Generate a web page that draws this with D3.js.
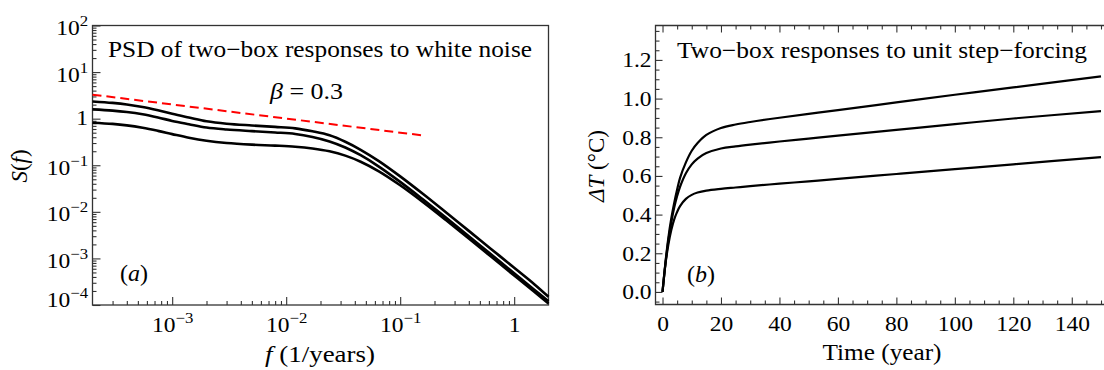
<!DOCTYPE html>
<html>
<head>
<meta charset="utf-8">
<script src="https://cdn.jsdelivr.net/npm/d3@7"></script>
<style>
  body { margin: 0; background: #fff; }
  text { font-family: "Liberation Serif", "Times New Roman", serif; fill: #000; }
</style>
</head>
<body>
<script>
// panel (a): PSD of two-box responses
var freq     = [2e-4, 3e-4, 4e-4, 5.5e-4, 7.5e-4, 1e-3, 1.4e-3, 2e-3, 3e-3, 5e-3, 8e-3, 0.012, 0.017, 0.024, 0.033, 0.045, 0.065, 0.1, 0.16, 0.25, 0.4, 0.63, 1, 1.5, 2];
var psdHigh  = [2.34, 2.18, 2.02, 1.78, 1.51, 1.27, 1.06, 0.88, 0.78, 0.715, 0.667, 0.62, 0.535, 0.44, 0.32, 0.215, 0.123, 0.0578, 0.0238, 0.0099, 0.0039, 0.00158, 0.00063, 0.00028, 0.00015];
var psdMid   = [1.58, 1.49, 1.39, 1.24, 1.06, 0.895, 0.76, 0.645, 0.586, 0.541, 0.506, 0.47, 0.405, 0.325, 0.241, 0.164, 0.0937, 0.044, 0.0181, 0.0076, 0.003, 0.00121, 0.00048, 0.000213, 0.00012];
var psdLow   = [0.82, 0.773, 0.719, 0.638, 0.547, 0.466, 0.389, 0.335, 0.30, 0.277, 0.264, 0.25, 0.229, 0.199, 0.161, 0.119, 0.0742, 0.0372, 0.0159, 0.00675, 0.00267, 0.00108, 0.00043, 0.000192, 0.000108];
var betaLineF = [2e-4, 0.166];
var betaLineS = [3.28, 0.43];

// panel (b): step responses
var years    = [0, 1, 2, 3, 4, 5, 6, 8, 10, 12, 15, 20, 25, 30, 40, 50, 60, 80, 100, 120, 150];
var stepHigh = [0, 0.152, 0.28, 0.38, 0.46, 0.53, 0.59, 0.67, 0.73, 0.77, 0.812, 0.848, 0.866, 0.879, 0.901, 0.921, 0.94, 0.98, 1.02, 1.058, 1.115];
var stepMid  = [0, 0.147, 0.266, 0.36, 0.436, 0.496, 0.544, 0.614, 0.66, 0.69, 0.718, 0.742, 0.753, 0.762, 0.778, 0.793, 0.808, 0.838, 0.868, 0.897, 0.935];
var stepLow  = [0, 0.142, 0.245, 0.32, 0.375, 0.414, 0.444, 0.481, 0.502, 0.514, 0.524, 0.533, 0.54, 0.547, 0.56, 0.572, 0.585, 0.61, 0.635, 0.66, 0.697];

// tick labels
var fTicks = [1e-3, 1e-2, 1e-1, 1];
var sTicks = [1e-4, 1e-3, 1e-2, 1e-1, 1, 10, 100];
var tTicks = [0, 20, 40, 60, 80, 100, 120, 140];
var dTicks = [0, 0.2, 0.4, 0.6, 0.8, 1.0, 1.2];

var svg = d3.select('body').append('svg')
   .attr('width', 1104)
   .attr('height', 370);

var frameColor = '#333';
var stretch = 'scale(1.12,1)';

// ---------- panel (a) ----------
var xL = d3.scaleLog().domain([2e-4, 2]).range([92.5, 548.5]);
var yL = d3.scaleLog().domain([1e-4, 100]).range([305, 25.5]);

var minorF = [], minorS = [];
for (var e = -4; e <= 0; e++) {
  for (var m = 2; m <= 9; m++) {
    var v = m * Math.pow(10, e);
    if (v > 2e-4 && v < 2) minorF.push(v);
  }
}
for (var e2 = -4; e2 < 2; e2++) {
  for (var m2 = 2; m2 <= 9; m2++) minorS.push(m2 * Math.pow(10, e2));
}

function powLabel(sel, d) {
  var k = Math.round(Math.log10(d));
  sel.text(null);
  if (k === 0) { sel.text('1'); return; }
  sel.append('tspan').text('10');
  sel.append('tspan').attr('dy', '-9').attr('font-size', '15px')
     .text(k < 0 ? '\u2212' + (-k) : String(k));
}

var gA = svg.append('g');

// minor ticks
gA.append('g').attr('transform', 'translate(0,305)')
  .call(d3.axisBottom(xL).tickValues(minorF).tickSize(-4).tickFormat(''))
  .call(function(g){ g.select('.domain').remove(); });
gA.append('g').attr('transform', 'translate(92.5,0)')
  .call(d3.axisLeft(yL).tickValues(minorS).tickSize(-4).tickFormat(''))
  .call(function(g){ g.select('.domain').remove(); });

// major ticks + labels
var axXL = gA.append('g').attr('transform', 'translate(0,305)')
  .call(d3.axisBottom(xL).tickValues(fTicks).tickSize(-8).tickPadding(12));
axXL.select('.domain').remove();
axXL.selectAll('.tick text').attr('font-size', '21px').attr('dy', null).attr('y', 27)
  .attr('transform', stretch)
  .each(function(d){ powLabel(d3.select(this), d); });

var axYL = gA.append('g').attr('transform', 'translate(92.5,0)')
  .call(d3.axisLeft(yL).tickValues(sTicks).tickSize(-8).tickPadding(4));
axYL.select('.domain').remove();
axYL.selectAll('.tick text').attr('font-size', '21px').attr('dy', null)
  .attr('y', function(d){ return d === 1e-4 ? 1 : (d === 1 ? 6 : 9); })
  .attr('transform', stretch)
  .each(function(d){ powLabel(d3.select(this), d); });

gA.selectAll('.tick line').attr('stroke', frameColor).attr('stroke-width', 1.1);

gA.append('rect')
  .attr('x', 92.5).attr('y', 25.5)
  .attr('width', 548.5 - 92.5).attr('height', 305 - 25.5)
  .attr('fill', 'none').attr('stroke', frameColor).attr('stroke-width', 1.3);

var lineA = d3.line()
  .x(function(d){ return xL(d[0]); })
  .y(function(d){ return yL(d[1]); })
  .curve(d3.curveCatmullRom.alpha(0.5));

[psdLow, psdMid, psdHigh].forEach(function(s) {
  gA.append('path')
    .attr('d', lineA(freq.map(function(f, i){ return [f, s[i]]; })))
    .attr('fill', 'none').attr('stroke', '#000').attr('stroke-width', 2.6);
});

gA.append('path')
  .attr('d', lineA(betaLineF.map(function(f, i){ return [f, betaLineS[i]]; })))
  .attr('fill', 'none').attr('stroke', '#f00').attr('stroke-width', 2)
  .attr('stroke-dasharray', '9,5');

gA.append('text').attr('x', 320).attr('y', 57)
  .attr('text-anchor', 'middle').attr('font-size', '23px')
  .attr('textLength', 424).attr('lengthAdjust', 'spacingAndGlyphs')
  .text('PSD of two\u2212box responses to white noise');

var beta = gA.append('text').attr('x', 306.5).attr('y', 99)
  .attr('text-anchor', 'middle').attr('font-size', '23px')
  .attr('textLength', 73).attr('lengthAdjust', 'spacingAndGlyphs');
beta.append('tspan').attr('font-style', 'italic').text('\u03b2');
beta.append('tspan').text(' = 0.3');

var la = gA.append('text').attr('x', 120).attr('y', 281).attr('font-size', '23px')
  .attr('textLength', 28).attr('lengthAdjust', 'spacingAndGlyphs');
la.append('tspan').text('(');
la.append('tspan').attr('font-style', 'italic').text('a');
la.append('tspan').text(')');

var xla = gA.append('text').attr('x', 320).attr('y', 362)
  .attr('text-anchor', 'middle').attr('font-size', '23px')
  .attr('textLength', 110).attr('lengthAdjust', 'spacingAndGlyphs');
xla.append('tspan').attr('font-style', 'italic').text('f');
xla.append('tspan').text(' (1/years)');

var yla = gA.append('text').attr('transform', 'translate(27,166) rotate(-90)')
  .attr('text-anchor', 'middle').attr('font-size', '23px');
yla.append('tspan').attr('font-style', 'italic').text('S');
yla.append('tspan').text('(');
yla.append('tspan').attr('font-style', 'italic').text('f');
yla.append('tspan').text(')');

// ---------- panel (b) ----------
var xR = d3.scaleLinear().domain([-2.4, 150]).range([655.5, 1101]);
var yR = d3.scaleLinear().domain([-0.065, 1.378]).range([304.5, 25.5]);

var minorT = [], minorD = [];
for (var t = 5; t <= 150; t += 5) if (t % 20 !== 0) minorT.push(t);
for (var j = -1; j <= 27; j++) if (j % 4 !== 0) minorD.push(j * 0.05);

var gB = svg.append('g');

gB.append('g').attr('transform', 'translate(0,304.5)')
  .call(d3.axisBottom(xR).tickValues(minorT).tickSize(-4).tickFormat(''))
  .call(function(g){ g.select('.domain').remove(); });
gB.append('g').attr('transform', 'translate(0,25.5)')
  .call(d3.axisTop(xR).tickValues(minorT).tickSize(-4).tickFormat(''))
  .call(function(g){ g.select('.domain').remove(); });
gB.append('g').attr('transform', 'translate(0,25.5)')
  .call(d3.axisTop(xR).tickValues(tTicks).tickSize(-7).tickFormat(''))
  .call(function(g){ g.select('.domain').remove(); });
gB.append('g').attr('transform', 'translate(655.5,0)')
  .call(d3.axisLeft(yR).tickValues(minorD).tickSize(-4).tickFormat(''))
  .call(function(g){ g.select('.domain').remove(); });

var axXR = gB.append('g').attr('transform', 'translate(0,304.5)')
  .call(d3.axisBottom(xR).tickValues(tTicks).tickSize(-7).tickPadding(12));
axXR.select('.domain').remove();
axXR.selectAll('.tick text').attr('font-size', '21px').attr('dy', null).attr('y', 27)
  .attr('transform', stretch);

var axYR = gB.append('g').attr('transform', 'translate(655.5,0)')
  .call(d3.axisLeft(yR).tickValues(dTicks).tickSize(-7).tickPadding(3.5)
        .tickFormat(d3.format('.1f')));
axYR.select('.domain').remove();
axYR.selectAll('.tick text').attr('font-size', '21px').attr('dy', null).attr('y', 7)
  .attr('transform', stretch);

gB.selectAll('.tick line').attr('stroke', frameColor).attr('stroke-width', 1.1);

gB.append('path')
  .attr('d', 'M1104,25.5H655.5V304.5H1104')
  .attr('fill', 'none').attr('stroke', frameColor).attr('stroke-width', 1.3);

var lineB = d3.line()
  .x(function(d){ return xR(d[0]); })
  .y(function(d){ return yR(d[1]); })
  .curve(d3.curveCatmullRom.alpha(0.5));

[stepLow, stepMid, stepHigh].forEach(function(s) {
  gB.append('path')
    .attr('d', lineB(years.map(function(y, i){ return [y, s[i]]; })))
    .attr('fill', 'none').attr('stroke', '#000').attr('stroke-width', 2.2);
});

gB.append('text').attr('x', 882).attr('y', 58)
  .attr('text-anchor', 'middle').attr('font-size', '23px')
  .attr('textLength', 410).attr('lengthAdjust', 'spacingAndGlyphs')
  .text('Two\u2212box responses to unit step\u2212forcing');

var lb = gB.append('text').attr('x', 687).attr('y', 282).attr('font-size', '23px')
  .attr('textLength', 28).attr('lengthAdjust', 'spacingAndGlyphs');
lb.append('tspan').text('(');
lb.append('tspan').attr('font-style', 'italic').text('b');
lb.append('tspan').text(')');

gB.append('text').attr('x', 882).attr('y', 360)
  .attr('text-anchor', 'middle').attr('font-size', '23px')
  .attr('textLength', 119).attr('lengthAdjust', 'spacingAndGlyphs')
  .text('Time (year)');

var ylb = gB.append('text').attr('transform', 'translate(604,166) rotate(-90)')
  .attr('text-anchor', 'middle').attr('font-size', '23px');
ylb.append('tspan').attr('font-style', 'italic').text('\u0394T');
ylb.append('tspan').text(' (\u00b0C)');
</script>
</body>
</html>
